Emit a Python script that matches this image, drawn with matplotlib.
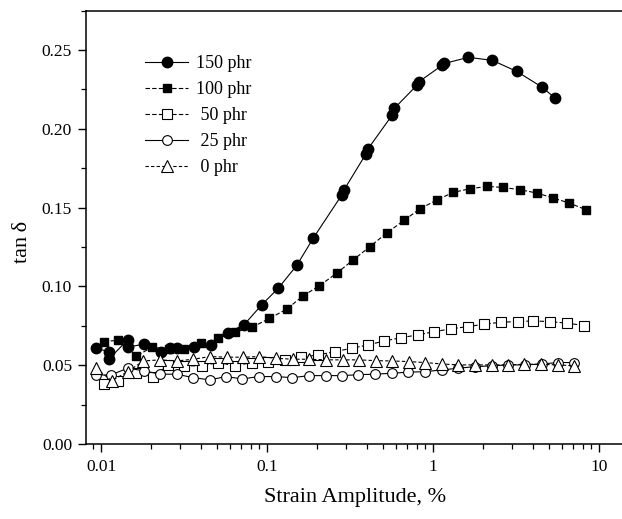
import matplotlib
matplotlib.use("Agg")
import matplotlib.pyplot as plt
from matplotlib.ticker import LogLocator, FixedLocator, NullFormatter, FixedFormatter

plt.rcParams['font.family'] = ['Liberation Serif', 'DejaVu Serif']

# ---- data ----
x150 = [0.00929, 0.01117, 0.01117, 0.01449, 0.01449, 0.01824, 0.02298, 0.02605, 0.02858,
        0.03648, 0.04603, 0.05799, 0.07263, 0.0929, 0.1170, 0.1510, 0.1901, 0.282, 0.290,
        0.394, 0.404, 0.570, 0.585, 0.805, 0.825, 1.14, 1.17, 1.633, 2.276, 3.19, 4.52, 5.43]
y150 = [0.0608, 0.0586, 0.0540, 0.0661, 0.0614, 0.0635, 0.0586, 0.0608, 0.0608,
        0.0614, 0.0629, 0.0707, 0.0756, 0.0883, 0.0989, 0.1133, 0.1307, 0.158, 0.161,
        0.184, 0.187, 0.209, 0.213, 0.228, 0.230, 0.2405, 0.2415, 0.2454, 0.2435, 0.2365, 0.2266, 0.2196]

x100 = [0.01043, 0.01261, 0.01618, 0.02020, 0.02557, 0.03162, 0.04030, 0.05068, 0.06417,
        0.08089, 0.1035, 0.1315, 0.1648, 0.2065, 0.2623, 0.3311, 0.4173, 0.5260, 0.6687,
        0.8352, 1.061, 1.325, 1.671, 2.124, 2.652, 3.342, 4.214, 5.305, 6.622, 8.352]
y100 = [0.0650, 0.0658, 0.0556, 0.0613, 0.0604, 0.0602, 0.0640, 0.0670, 0.0710,
        0.0740, 0.0797, 0.0856, 0.0940, 0.1004, 0.1083, 0.1169, 0.1253, 0.1339, 0.1419,
        0.1493, 0.1550, 0.1597, 0.1620, 0.1635, 0.1628, 0.1614, 0.1593, 0.1561, 0.1529, 0.1487]

x50 = [0.01043, 0.01261, 0.01618, 0.02048, 0.02543, 0.03175, 0.04043, 0.05089, 0.06417,
       0.08089, 0.1018, 0.1284, 0.1602, 0.2020, 0.2568, 0.3237, 0.4075, 0.5089, 0.6416,
       0.8089, 1.018, 1.283, 1.618, 2.037, 2.568, 3.237, 4.019, 5.068, 6.39, 8.15]
y50 = [0.0381, 0.0402, 0.0449, 0.0424, 0.0502, 0.0496, 0.0496, 0.0517, 0.0496,
       0.0517, 0.0523, 0.0534, 0.0551, 0.0565, 0.0586, 0.0608, 0.0629, 0.0654, 0.0675,
       0.0692, 0.0713, 0.0731, 0.0745, 0.0760, 0.0773, 0.0777, 0.0781, 0.0777, 0.0767, 0.0752]

x25 = [0.00929, 0.01144, 0.01449, 0.01824, 0.02266, 0.02858, 0.03597, 0.04535, 0.05640,
       0.07100, 0.0895, 0.1133, 0.1420, 0.1791, 0.2258, 0.2849, 0.3548, 0.4473, 0.5640,
       0.7100, 0.8950, 1.128, 1.420, 1.791, 2.258, 2.842, 3.583, 4.517, 5.685, 7.10]
y25 = [0.0438, 0.0438, 0.0481, 0.0464, 0.0443, 0.0443, 0.0421, 0.0407, 0.0428,
       0.0413, 0.0428, 0.0428, 0.0421, 0.0434, 0.0434, 0.0434, 0.0440, 0.0443, 0.0449,
       0.0456, 0.0459, 0.0470, 0.0481, 0.0491, 0.0496, 0.0502, 0.0502, 0.0508, 0.0517, 0.0517]

x0 = [0.00929, 0.01160, 0.01449, 0.01798, 0.02266, 0.02858, 0.03597, 0.04535, 0.05718,
      0.07198, 0.0899, 0.1133, 0.1428, 0.1799, 0.2266, 0.2858, 0.3583, 0.4517, 0.5685,
      0.7169, 0.8950, 1.128, 1.420, 1.791, 2.258, 2.842, 3.548, 4.473, 5.685, 7.10]
y0 = [0.0481, 0.0402, 0.0459, 0.0527, 0.0534, 0.0527, 0.0538, 0.0555, 0.0551,
      0.0551, 0.0555, 0.0544, 0.0538, 0.0538, 0.0534, 0.0534, 0.0534, 0.0529, 0.0527,
      0.0523, 0.0517, 0.0508, 0.0502, 0.0502, 0.0502, 0.0502, 0.0506, 0.0506, 0.0502, 0.0496]

labels = ["150 phr", "100 phr", " 50 phr", " 25 phr", " 0 phr"]
x_ticks = [0.01, 0.1, 1, 10]
x_ticklabels = ["0.01", "0.1", "1", "10"]
y_ticks = [0.00, 0.05, 0.10, 0.15, 0.20, 0.25]

# ---- figure ----
fig = plt.figure(figsize=(6.22, 5.19), dpi=100)
ax = fig.add_axes([86 / 622, 75 / 519, (623.5 - 86) / 622, (444 - 10.7) / 519])

lw = 0.8
ax.plot(x150, y150, '-', color='black', lw=lw, marker='o', ms=7.5,
        mfc='black', mec='black', label=labels[0])
ax.plot(x100, y100, '--', color='black', lw=lw, dashes=(4, 2), marker='s', ms=6,
        mfc='black', mec='black', label=labels[1])
ax.plot(x50, y50, '--', color='black', lw=lw, dashes=(4, 2), marker='s', ms=6.5,
        mfc='white', mec='black', mew=0.8, label=labels[2])
ax.plot(x25, y25, '-', color='black', lw=lw, marker='o', ms=7,
        mfc='white', mec='black', mew=0.8, label=labels[3])
ax.plot(x0, y0, '--', color='black', lw=lw, dashes=(3, 2), marker='^', ms=8,
        mfc='white', mec='black', mew=0.8, label=labels[4])

ax.set_xscale('log')
ax.set_xlim(10 ** -2.0904, 10 ** 1.1476)
ax.set_ylim(0, 0.275)

ax.xaxis.set_major_locator(FixedLocator(x_ticks))
ax.xaxis.set_major_formatter(FixedFormatter(x_ticklabels))
ax.xaxis.set_minor_locator(LogLocator(base=10, subs=range(2, 10)))
ax.xaxis.set_minor_formatter(NullFormatter())
ax.set_yticks(y_ticks)
ax.set_yticklabels([f"{v:.2f}" for v in y_ticks])
ax.set_yticks([0.025, 0.075, 0.125, 0.175, 0.225, 0.275], minor=True)

ax.tick_params(which='major', direction='out', length=6, width=1, labelsize=12.5, pad=4)
ax.tick_params(which='minor', direction='out', length=3.5, width=0.9)
ax.tick_params(axis='x', which='major', pad=5)
for s in ax.spines.values():
    s.set_linewidth(1.1)
ax.spines['right'].set_visible(False)

ax.set_xlabel("Strain Amplitude, %", fontsize=16, labelpad=9)
ax.set_ylabel("tan\u2009δ", fontsize=16)
ax.yaxis.set_label_coords(-0.1005, 0.466)

leg = ax.legend(loc='upper left', bbox_to_anchor=(0.11, 0.897), frameon=False,
                fontsize=13, handlelength=2.4, handletextpad=0.4, labelspacing=0.5,
                borderaxespad=0, borderpad=0)

fig.savefig("out.png", dpi=100)
